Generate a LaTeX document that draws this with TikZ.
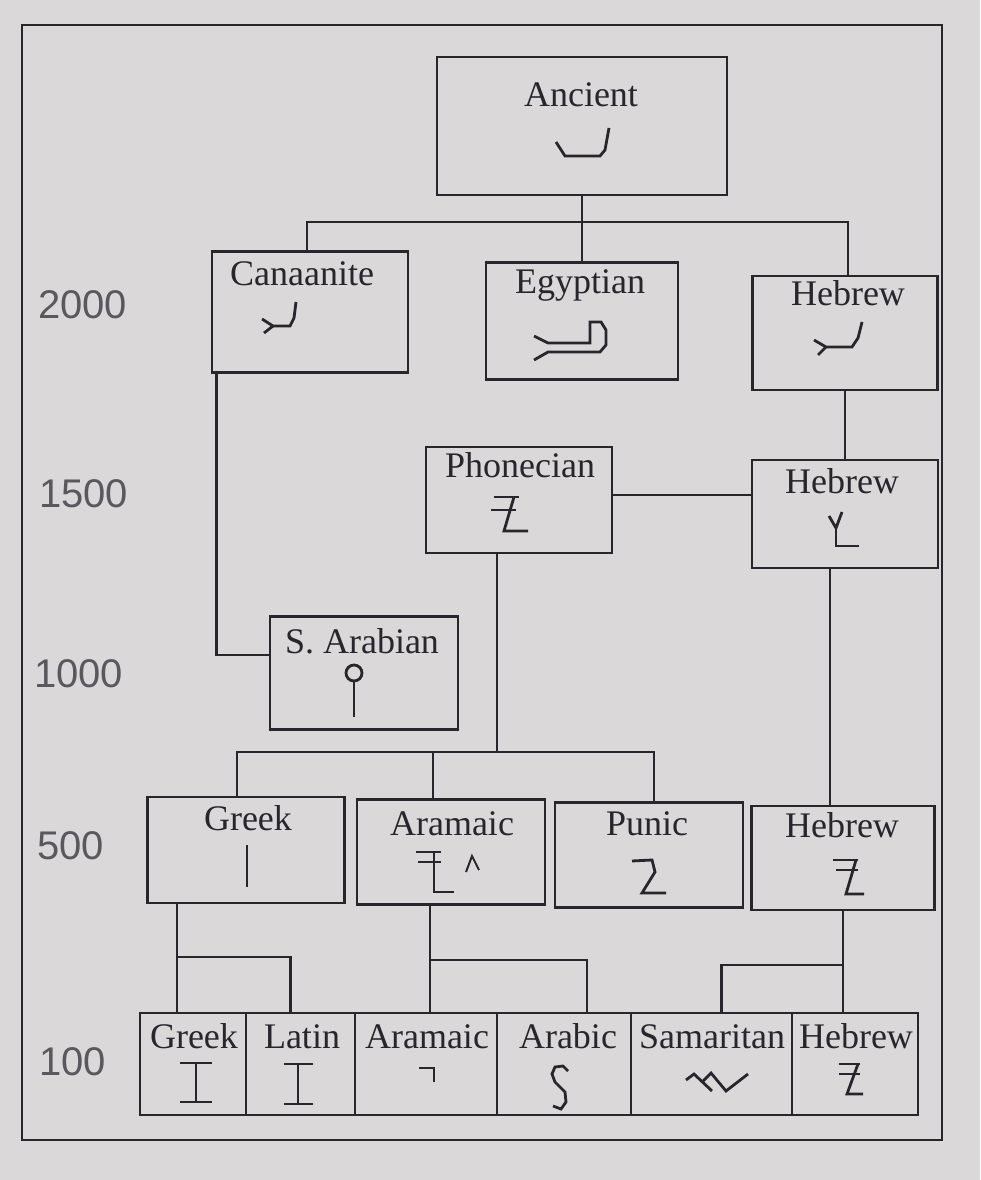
\documentclass[tikz,border=0pt]{standalone}
\usepackage{fontspec}
\setmainfont{Liberation Serif}
\setsansfont{Liberation Sans}
\definecolor{screen}{RGB}{218,216,217}
\definecolor{ink}{RGB}{38,38,44}
\definecolor{yearink}{RGB}{88,88,94}
\begin{document}
\begin{tikzpicture}[x=1pt,y=-1pt]

      \fill[screen] (0,0) rectangle (980,1180);
      \useasboundingbox (0,0) rectangle (980,1180);
      \draw[ink,line width=2.4pt] (22,25) rectangle (942,1140);

      % script boxes
      \begin{scope}[every node/.style={rectangle,draw=ink,line width=2.8pt,inner sep=0pt}]
        \node[minimum width=290pt,minimum height=138pt] (anc)  at (582,126)   {};
        \node[minimum width=196pt,minimum height=121pt] (can)  at (310,312)   {};
        \node[minimum width=192pt,minimum height=117pt] (egy)  at (582,321)   {};
        \node[minimum width=185pt,minimum height=114pt] (heb1) at (845,333)   {};
        \node[minimum width=186pt,minimum height=106pt] (pho)  at (519,500)   {};
        \node[minimum width=186pt,minimum height=108pt] (heb2) at (845,514)   {};
        \node[minimum width=188pt,minimum height=113pt] (sar)  at (364,673)   {};
        \node[minimum width=197pt,minimum height=106pt] (grk5) at (246,850)   {};
        \node[minimum width=188pt,minimum height=105pt] (ara5) at (451,852)   {};
        \node[minimum width=188pt,minimum height=105pt] (pun5) at (649,855)   {};
        \node[minimum width=183pt,minimum height=104pt] (heb5) at (843,858)   {};
        \node[minimum width=106pt,minimum height=102pt] (grk1) at (193,1064)  {};
        \node[minimum width=109pt,minimum height=102pt] (lat1) at (300.5,1064) {};
        \node[minimum width=142pt,minimum height=102pt] (ara1) at (426,1064)  {};
        \node[minimum width=134pt,minimum height=102pt] (arb1) at (564,1064)  {};
        \node[minimum width=161pt,minimum height=102pt] (sam1) at (711.5,1064) {};
        \node[minimum width=126pt,minimum height=102pt] (heb0) at (855,1064)  {};
      \end{scope}

      % names
      \begin{scope}[every node/.style={anchor=base,text=ink,inner sep=0pt,font=\fontsize{36}{40}\selectfont}]
        \node (anc-t)  at (581,107)  {Ancient};
        \node (can-t)  at (302,285)  {Canaanite};
        \node (egy-t)  at (580,293)  {Egyptian};
        \node (heb1-t) at (848,305)  {Hebrew};
        \node (pho-t)  at (520,477)  {Phonecian};
        \node (heb2-t) at (842,493)  {Hebrew};
        \node (sar-t)  at (362,653)  {S. Arabian};
        \node (grk5-t) at (248,830)  {Greek};
        \node (ara5-t) at (452,835)  {Aramaic};
        \node (pun5-t) at (647,835)  {Punic};
        \node (heb5-t) at (842,837)  {Hebrew};
        \node (grk1-t) at (194,1048) {Greek};
        \node (lat1-t) at (302,1048) {Latin};
        \node (ara1-t) at (427,1048) {Aramaic};
        \node (arb1-t) at (568,1048) {Arabic};
        \node (sam1-t) at (712,1048) {Samaritan};
        \node (heb0-t) at (856,1048) {Hebrew};
      \end{scope}

      % years
      \begin{scope}[every node/.style={anchor=base west,text=yearink,inner sep=0pt,font=\sffamily\fontsize{40}{44}\selectfont}]
        \node (y2000) at (38,318)  {2000};
        \node (y1500) at (39,507)  {1500};
        \node (y1000) at (34,687)  {1000};
        \node (y500)  at (37,859)  {500};
        \node (y100)  at (39,1075) {100};
      \end{scope}

      % letter forms
      \begin{scope}[ink,line width=2.8pt]
        \draw (556,142) -- (565,156) -- (600,156) -- (605,150) -- (609,128);
        \draw (262,319) -- (273,326) -- (290,326) -- (294,318) -- (296,302);
        \draw (264,333) -- (273,326);
        \draw (534,336) -- (548,343) -- (590,343) -- (590,322) -- (601,322)
              -- (606,330) -- (606,345) -- (600,352) -- (548,352) -- (534,360);
        \draw (814,340) -- (826,347) -- (852,347) -- (858,338) -- (862,322);
        \draw (818,355) -- (826,347);
        \draw (494,497) -- (519,497);
        \draw (491,510) -- (516,510);
        \draw (514,497) -- (504,531) -- (528,531);
        \draw (829,516) -- (836,528) -- (842,512);
        \draw (836,528) -- (836,546) -- (859,546);
        \draw (354,673) circle (8pt);
        \draw (354,681) -- (354,717);
        \draw (247,845) -- (247,887);
        \draw (416,852) -- (441,852);
        \draw (418,862) -- (441,862);
        \draw (434,852) -- (434,892) -- (454,892);
        \draw[line width=2pt] (466,872) -- (472,856) -- (479,870);
        \draw (632,861) -- (652,860) -- (655,872) -- (642,893) -- (666,893);
        \draw (833,860) -- (858,860);
        \draw (836,870) -- (858,870);
        \draw (856,860) -- (846,894) -- (864,894);
        \draw (180,1063) -- (212,1063);
        \draw (196,1063) -- (196,1102);
        \draw (180,1102) -- (212,1102);
        \draw (284,1064) -- (313,1064);
        \draw (298,1064) -- (298,1104);
        \draw (284,1104) -- (313,1104);
        \draw (419,1068) -- (434,1068) -- (434,1082);
        \draw (568,1071) -- (563,1066) -- (555,1067) -- (552,1074) -- (555,1082)
              -- (565,1092) -- (566,1102) -- (561,1109) -- (553,1106);
        \draw (686,1080) -- (694,1074) -- (712,1091);
        \draw (703,1081) -- (711,1073) -- (726,1091) -- (748,1074);
        \draw (839,1064) -- (860,1064);
        \draw (839,1074) -- (860,1074);
        \draw (858,1064) -- (847,1094) -- (863,1094);
      \end{scope}

      % family lines
      \begin{scope}[ink,line width=2.6pt]
        \coordinate (b1) at (582,222);
        \coordinate (b2) at (497,752);
        \coordinate (b3) at (177,957);
        \coordinate (b4) at (430,960);
        \coordinate (b5) at (843,965);

        \draw (anc.south) -- (egy.north);
        \draw ([xshift=-3]can.north) |- (b1) -| ([xshift=3]heb1.north);
        \draw (heb1.south) -- (heb2.north);
        \draw (pho.east |- 0,495) -- (heb2.west |- 0,495);
        \draw ([xshift=6]can.south west) |- ([yshift=18]sar.west);
        \draw ([xshift=-22]pho.south) -- (b2);
        \draw ([xshift=-9]grk5.north) |- (b2) -| ([xshift=5]pun5.north);
        \draw ([xshift=-18]ara5.north) -- ([xshift=-18]ara5.north |- b2);
        \draw ([xshift=-15]heb2.south) -- ([xshift=-15]heb2.south |- heb5.north);

        \draw (b3 |- grk5.south) -- (b3 |- grk1.north);
        \draw (b3) -| ([xshift=-10]lat1.north);
        \draw (b4 |- ara5.south) -- (b4 |- ara1.north);
        \draw (b4) -| ([xshift=23]arb1.north);
        \draw (b5 |- heb5.south) -- (b5 |- heb0.north);
        \draw (b5) -| ([xshift=10]sam1.north);
      \end{scope}

    \end{tikzpicture}
\end{document}
